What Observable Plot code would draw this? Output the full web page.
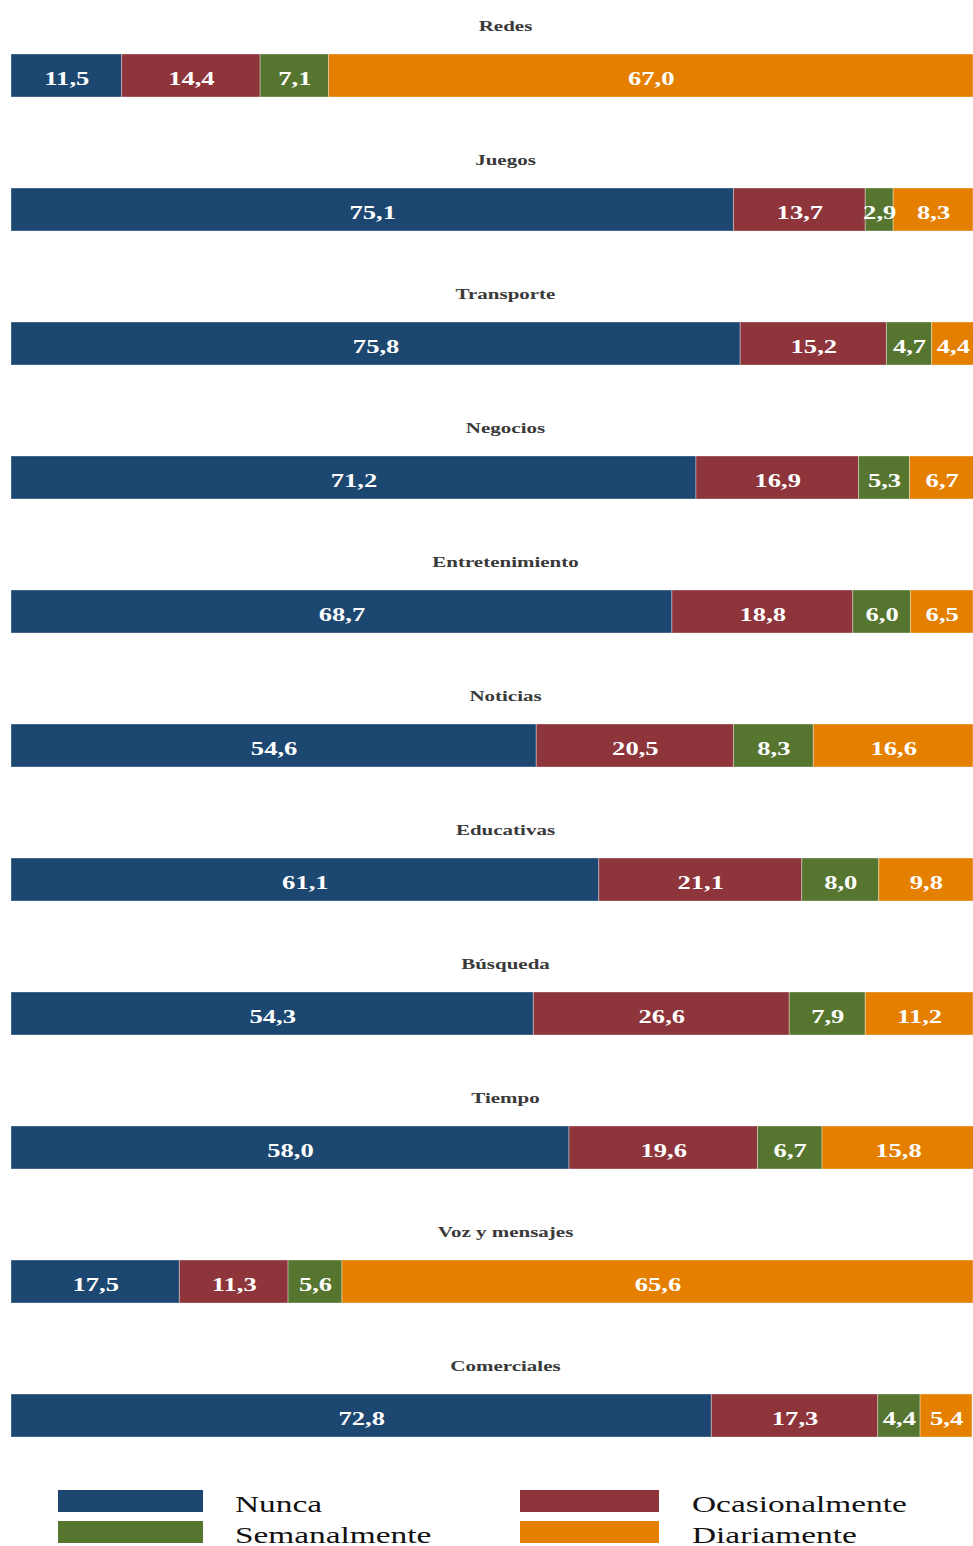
<!DOCTYPE html>
<html>
<head>
<meta charset="utf-8">
<script src="https://cdn.jsdelivr.net/npm/d3@7"></script>
<script src="https://cdn.jsdelivr.net/npm/@observablehq/plot@0.6"></script>
<style>
  body { margin: 0; background: #fff; }
  #legend { position: relative; width: 973px; height: 62px; font-family: "Liberation Serif", serif; }
  .sw { position: absolute; height: 22px; }
  .lt { position: absolute; font-size: 23px; color: #111; transform: scaleX(1.45); transform-origin: left center; line-height: 22px; white-space: nowrap; }
</style>
</head>
<body>
<div id="chart"></div>
<div id="legend"></div>
<script>
const categories = ["Redes","Juegos","Transporte","Negocios","Entretenimiento","Noticias","Educativas","Búsqueda","Tiempo","Voz y mensajes","Comerciales"];
const series = ["Nunca","Ocasionalmente","Semanalmente","Diariamente"];
const colors = ["#1c4770","#8e353b","#56752f","#e57f00"];
const nunca = [11.5,75.1,75.8,71.2,68.7,54.6,61.1,54.3,58.0,17.5,72.8];
const ocasionalmente = [14.4,13.7,15.2,16.9,18.8,20.5,21.1,26.6,19.6,11.3,17.3];
const semanalmente = [7.1,2.9,4.7,5.3,6.0,8.3,8.0,7.9,6.7,5.6,4.4];
const diariamente = [67.0,8.3,4.4,6.7,6.5,16.6,9.8,11.2,15.8,65.6,5.4];

const valuesBySeries = [nunca, ocasionalmente, semanalmente, diariamente];
const data = [];
categories.forEach((c, i) => {
  series.forEach((s, j) => data.push({cat: c, series: s, value: valuesBySeries[j][i]}));
});
const fmt = v => v.toFixed(1).replace(".", ",");

const plot = Plot.plot({
  width: 973,
  height: 1484,
  marginLeft: 11,
  marginRight: 0,
  marginTop: 7,
  marginBottom: 0,
  x: {domain: [0, 100], axis: null},
  y: {domain: categories, axis: null, paddingInner: 0.676, paddingOuter: 0.338},
  color: {domain: series, range: colors},
  style: {fontFamily: "'Liberation Serif', serif"},
  marks: [
    Plot.barX(data, Plot.stackX({x: "value", y: "cat", fill: "series", z: "series", order: null, stroke: "#ffffff", strokeOpacity: 0.35, strokeWidth: 1})),
    Plot.text(data, Plot.stackX({x: "value", y: "cat", z: "series", order: null, text: d => fmt(d.value), fill: "white", fontSize: 19, fontWeight: "bold", dy: 3})),
    Plot.text(categories, {y: d => d, text: d => d, frameAnchor: "middle", dx: 13, dy: -50, fontSize: 15, fontWeight: "bold", fill: "#3a3a3a"})
  ]
});
d3.select(plot).selectAll("g[aria-label='text'] text").each(function() {
  const el = d3.select(this);
  let t = el.attr("transform");
  if (!t) {
    const x = +el.attr("x") || 0, y = +el.attr("y") || 0;
    el.attr("x", null).attr("y", null);
    t = `translate(${x},${y})`;
  }
  el.attr("transform", t + " scale(1.4,1)");
});
document.getElementById("chart").appendChild(plot);

const legend = d3.select("#legend");
const pos = [
  {sx: 58, sw: 145, tx: 235, y: 6},
  {sx: 520, sw: 139, tx: 692, y: 6},
  {sx: 58, sw: 145, tx: 235, y: 37},
  {sx: 520, sw: 139, tx: 692, y: 37}
];
series.forEach((s, i) => {
  const p = pos[i];
  legend.append("div").attr("class", "sw").style("left", p.sx + "px").style("top", p.y + "px").style("width", p.sw + "px").style("background", colors[i]);
  legend.append("div").attr("class", "lt").style("left", p.tx + "px").style("top", (p.y + 4) + "px").text(s);
});
</script>
</body>
</html>
